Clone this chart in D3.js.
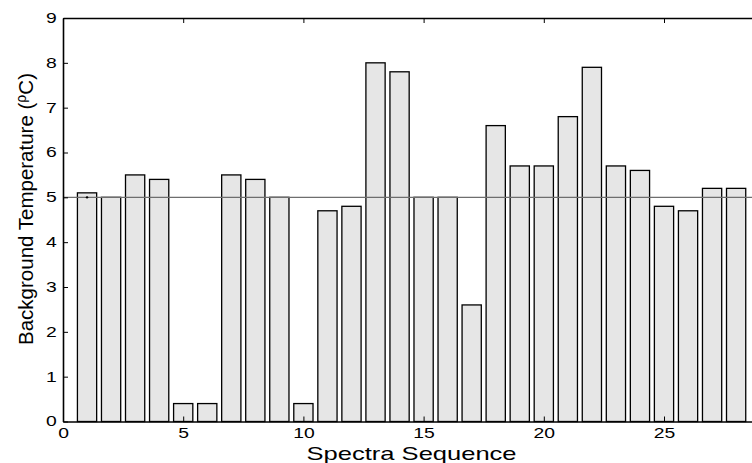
<!DOCTYPE html>
<html><head><meta charset="utf-8">
<script src="https://cdn.jsdelivr.net/npm/d3@7"></script>
<style>body{margin:0;background:#fff;}svg{display:block;font-family:"Liberation Sans",Arial,sans-serif;}</style>
</head><body>
<svg id="c" width="752" height="463"></svg>
<script>
const categories = d3.range(1, 29);
const temps = [5.1, 5.0, 5.5, 5.4, 0.4, 0.4, 5.5, 5.4, 5.0, 0.4, 4.7, 4.8, 8.0, 7.8, 5.0, 5.0, 2.6, 6.6, 5.7, 5.7, 6.8, 7.9, 5.7, 5.6, 4.8, 4.7, 5.2, 5.2];
const referenceLevel = [5];
const xTicks = [0, 5, 10, 15, 20, 25];
const yTicks = [0, 1, 2, 3, 4, 5, 6, 7, 8, 9];
const xTitle = "Spectra Sequence";

const svg = d3.select("#c");
const L = 63, T = 18, B = 421.5;
const x = d3.scaleLinear().domain([0, 29]).range([L, L + 29 * 24.04]);
const y = d3.scaleLinear().domain([0, 9]).range([B, T]);
const bw = x(0.8) - x(0);
const SX = 1.38;

// bars
svg.append("g").selectAll("rect").data(temps).join("rect")
  .attr("x", (d, i) => x(categories[i]) - bw / 2)
  .attr("y", d => y(d))
  .attr("width", bw)
  .attr("height", d => y(0) - y(d))
  .attr("fill", "#e6e6e6")
  .attr("stroke", "#000")
  .attr("stroke-width", 1.3);

// reference line
svg.append("g").selectAll("line").data(referenceLevel).join("line")
  .attr("x1", x(0)).attr("x2", x(29))
  .attr("y1", d => y(d)).attr("y2", d => y(d))
  .attr("stroke", "#6e6e6e").attr("stroke-width", 1.3);
svg.append("circle").attr("cx", x(categories[0])).attr("cy", y(referenceLevel[0])).attr("r", 1.2).attr("fill", "#000");

// axes
const xa = svg.append("g").attr("transform", `translate(0,${B})`)
  .call(d3.axisBottom(x).tickValues(xTicks).tickSize(-5).tickSizeOuter(0).tickPadding(7).tickFormat(d3.format("d")));
const xt = svg.append("g").attr("transform", `translate(0,${T})`)
  .call(d3.axisTop(x).tickValues(xTicks).tickSize(-5).tickSizeOuter(0).tickFormat(""));
const ya = svg.append("g").attr("transform", `translate(${L},0)`)
  .call(d3.axisLeft(y).tickValues(yTicks).tickSize(-5).tickSizeOuter(0).tickPadding(5).tickFormat(d3.format("d")));
[xa, xt, ya].forEach(g => {
  g.select(".domain").attr("stroke", "#000").attr("stroke-width", 1.6);
  g.selectAll(".tick line").attr("stroke", "#000").attr("stroke-width", 1);
  g.selectAll("text").attr("font-size", 14).attr("fill", "#000").attr("font-family", "Liberation Sans, Arial, sans-serif");
});
xa.selectAll("text").attr("transform", `scale(${SX},1)`);
ya.selectAll("text").attr("transform", `scale(${SX},1)`).attr("x", -4.5);

// titles
svg.append("text").attr("transform", `translate(${x(14.5)},460) scale(1.38,1)`)
  .attr("text-anchor", "middle").attr("font-size", 18.5).text(xTitle);

const yt = svg.append("text").attr("transform", `translate(33,209) rotate(-90)`)
  .attr("text-anchor", "middle").attr("font-size", 20.5);
yt.append("tspan").text("Background Temperature (");
yt.append("tspan").attr("font-size", 14).attr("dy", -7).text("ρ");
yt.append("tspan").attr("dy", 7).text("C)");
</script>
</body></html>
